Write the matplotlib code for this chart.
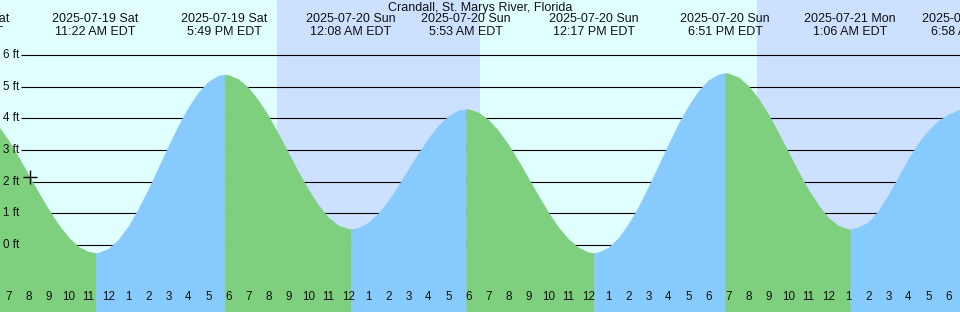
import matplotlib
matplotlib.use("Agg")
from matplotlib import pyplot as plt
from matplotlib.transforms import blended_transform_factory

plt.rcParams['font.family'] = ['Liberation Sans', 'DejaVu Sans']

# tide station
title = "Crandall, St. Marys River, Florida"

# highs / lows (hours counted from 2025-07-19 00:00 EDT)
ext_hours = [4.87, 11.367, 17.817, 24.133, 29.883, 36.283, 42.85, 49.1, 54.967]
ext_feet = [4.45, -0.25, 5.38, 0.50, 4.29, -0.25, 5.43, 0.50, 4.35]
ext_dates = ["2025-07-19 Sat", "2025-07-19 Sat", "2025-07-19 Sat",
             "2025-07-20 Sun", "2025-07-20 Sun", "2025-07-20 Sun",
             "2025-07-20 Sun", "2025-07-21 Mon", "2025-07-21 Mon"]
ext_times = ["4:52 AM EDT", "11:22 AM EDT", "5:49 PM EDT", "12:08 AM EDT",
             "5:53 AM EDT", "12:17 PM EDT", "6:51 PM EDT", "1:06 AM EDT",
             "6:58 AM EDT"]

# water level every half hour, from 6:00 AM 7/19
level_start = 6.0
level_ft = [4.11, 3.76, 3.31, 2.79, 2.23, 1.67, 1.13, 0.65, 0.25, -0.05, -0.21, -0.24,
            -0.12, 0.17, 0.59, 1.14, 1.76, 2.44, 3.12, 3.77, 4.35, 4.82, 5.16, 5.35,
            5.37, 5.24, 4.97, 4.57, 4.08, 3.51, 2.91, 2.31, 1.75, 1.26, 0.87, 0.62,
            0.51, 0.54, 0.71, 1.00, 1.40, 1.88, 2.39, 2.90, 3.37, 3.77, 4.07, 4.25,
            4.29, 4.19, 3.96, 3.61, 3.17, 2.66, 2.11, 1.56, 1.03, 0.56, 0.19, -0.08,
            -0.23, -0.23, -0.08, 0.22, 0.66, 1.20, 1.83, 2.50, 3.17, 3.82, 4.39, 4.86,
            5.20, 5.39, 5.42, 5.30, 5.03, 4.63, 4.13, 3.55, 2.93, 2.32, 1.75, 1.26,
            0.86, 0.61, 0.50, 0.56, 0.72, 1.08, 1.58, 2.15, 2.72, 3.22, 3.62, 3.92,
            4.13, 4.26, 4.35]
level_t = [level_start + 0.5 * i for i in range(len(level_ft))]

# night shading
sunset = [20.43, 44.45]
sunrise = [30.58, 54.65]

# the "now" mark
now_h, now_ft = 8.085, 2.15

ft_levels = [0, 1, 2, 3, 4, 5, 6]
tick_hours = list(range(7, 55))
tick_labels = [str((h - 1) % 12 + 1) for h in tick_hours]

day_col = "#e0ffff"
night_col = "#cce0ff"
rise_col = "#87cbfe"
fall_col = "#7ecf7e"

x0 = 7 - 8.3 / 20
x1 = x0 + 48
y0, y1 = -2.116, 7.737

fig = plt.figure(figsize=(9.6, 3.12), dpi=100)
ax = fig.add_axes([0, 0, 1, 1])
ax.set_facecolor(day_col)
ax.set_xlim(x0, x1)
ax.set_ylim(y0, y1)
for s in ax.spines.values():
    s.set_visible(False)

for a, b in zip(sunset, sunrise):
    ax.axvspan(a, b, color=night_col, lw=0, zorder=0)

ax.hlines(ft_levels, x0 + 21 / 20, x1, color="black", lw=0.8, zorder=1)

# merge half-hour levels and extremes
pts = sorted(list(zip(level_t, level_ft)) + list(zip(ext_hours, ext_feet)))
for i in range(len(ext_hours) - 1):
    a, b = ext_hours[i], ext_hours[i + 1]
    seg = [p for p in pts if a <= p[0] <= b]
    col = fall_col if ext_feet[i + 1] < ext_feet[i] else rise_col
    ax.fill_between([p[0] for p in seg], y0, [p[1] for p in seg],
                    color=col, lw=0.3, ec=col, zorder=2)

ax.plot([now_h], [now_ft], marker="+", ms=10, mew=1, color="black", zorder=4)

for lv in ft_levels:
    ax.text(3 / 960, lv, f"{lv} ft", transform=blended_transform_factory(ax.transAxes, ax.transData),
            ha="left", va="center", fontsize=8.4, color="#111111", zorder=5)

top = blended_transform_factory(ax.transData, ax.transAxes)
ax.text(480 / 960, 1 - 7.5 / 312, title, transform=ax.transAxes, ha="center", va="center",
        fontsize=9, color="#111111")
for h, d, t in zip(ext_hours, ext_dates, ext_times):
    ax.text(h, 1 - 19.5 / 312, d, transform=top, ha="center", va="center", fontsize=9, color="#111111")
    ax.text(h, 1 - 32 / 312, t, transform=top, ha="center", va="center", fontsize=9, color="#111111")

ax.set_xticks(tick_hours)
ax.set_yticks([])
ax.tick_params(axis="x", direction="in", length=5.8, width=0.8, color="black", labelbottom=False)
for tk, h in zip(ax.xaxis.get_major_ticks(), tick_hours):
    tk.tick1line.set_zorder(6)
    if h % 24 == 0:
        tk.tick1line.set_markeredgewidth(2.4)
for h, lab in zip(tick_hours, tick_labels):
    ax.text(h, 14.5 / 312, lab, transform=top, ha="center", va="center", fontsize=8.4, color="#111111")

fig.savefig("out.png", dpi=100)
